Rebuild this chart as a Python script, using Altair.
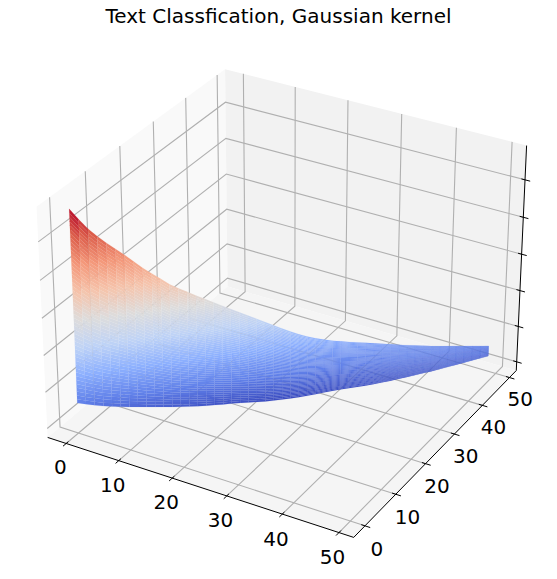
import math
import altair as alt

TITLE = "Text Classfication, Gaussian kernel"
column_t = list(range(50))
z_top = [1.149, 1.09, 1.035, .99, .95, .912, .875, .835, .795, .76,
         .725, .69, .663, .638, .612, .588, .563, .538, .514, .49,
         .466, .442, .418, .394, .37, .347, .326, .307, .291, .277,
         .265, .255, .245, .236, .227, .218, .209, .2, .191, .182,
         .174, .166, .158, .151, .145, .139, .132, .126, .119, .113]
z_bottom = [.117, .104, .091, .08, .071, .063, .055, .048, .041, .034,
            .028, .021, .015, .01, .005, .001, -.002, -.005, -.007, -.01,
            -.014, -.018, -.022, -.024, -.025, -.025, -.025, -.024, -.022, -.019,
            -.016, -.015, -.014, -.014, -.013, -.012, -.009, -.006, -.002, .002,
            .006, .011, .015, .02, .026, .032, .038, .044, .05, .056]
xy_ticks = [0, 10, 20, 30, 40, 50]
z_ticks = [0, .2, .4, .6, .8, 1.0]
xy_lim = (-2.45, 51.45)
z_lim = (-.025, 1.156)
coolwarm = ["#3b4cc0", "#6282ea", "#8db0fe", "#bfd3f6", "#dddcdc",
            "#f5c4ac", "#f4987a", "#dc5d4a", "#b40426"]
pane_colors = ["#f9f9f9", "#f2f2f2", "#f5f5f5"]
N_ROWS = 49

# matplotlib-style 3D camera: elev 30, azim -60, box aspect 4:4:3
EL, AZ, DIST = math.radians(30), math.radians(-60), 10.0
BOX = (1.1429, 1.1429, 0.8571)
n = (math.cos(EL) * math.cos(AZ), math.cos(EL) * math.sin(AZ), math.sin(EL))
un = math.hypot(n[1], n[0])
u = (-n[1] / un, n[0] / un, 0.0)
v = (n[1] * u[2] - n[2] * u[1], n[2] * u[0] - n[0] * u[2], n[0] * u[1] - n[1] * u[0])
dot = lambda a, b: sum(p * q for p, q in zip(a, b))


def cam(fx, fy, fz):
    q = ((fx - .5) * BOX[0], (fy - .5) * BOX[1], (fz - .5) * BOX[2])
    d = DIST - dot(q, n)
    return [round(dot(q, u) / d, 6), round(dot(q, v) / d, 6)]


def fxy(t):
    return (t - xy_lim[0]) / (xy_lim[1] - xy_lim[0])


def fz(z):
    return (z - z_lim[0]) / (z_lim[1] - z_lim[0])


LO, HI = -1 / 48, 49 / 48


def poly(pts, **props):
    return {"type": "Feature", "properties": props,
            "geometry": {"type": "Polygon", "coordinates": [[cam(*p) for p in pts] + [cam(*pts[0])]]}}


def line(pts, **props):
    return {"type": "Feature", "properties": props,
            "geometry": {"type": "LineString", "coordinates": [cam(*p) for p in pts]}}


panes = [
    poly([(LO, LO, LO), (LO, HI, LO), (LO, HI, HI), (LO, LO, HI)], c=pane_colors[0]),
    poly([(LO, HI, LO), (HI, HI, LO), (HI, HI, HI), (LO, HI, HI)], c=pane_colors[1]),
    poly([(LO, LO, LO), (HI, LO, LO), (HI, HI, LO), (LO, HI, LO)], c=pane_colors[2]),
]

grid = []
for t in xy_ticks:
    f = fxy(t)
    grid.append(line([(f, LO, LO), (f, HI, LO), (f, HI, HI)], k="g"))
    grid.append(line([(HI, f, LO), (LO, f, LO), (LO, f, HI)], k="g"))
for z in z_ticks:
    f = fz(z)
    grid.append(line([(LO, LO, f), (LO, HI, f), (HI, HI, f)], k="g"))

axes = [line([(LO, LO, LO), (HI, LO, LO), (HI, HI, LO), (HI, HI, HI)], k="a")]
OUT, IN = .017, .012
for t in xy_ticks:
    f = fxy(t)
    axes.append(line([(f, LO - OUT, LO), (f, LO + IN, LO)], k="a"))
    axes.append(line([(HI - IN, f, LO), (HI + OUT, f, LO)], k="a"))
for z in z_ticks:
    f = fz(z)
    axes.append(line([(HI - IN, HI, f), (HI + OUT, HI, f)], k="a"))

quads = []
for i in range(len(column_t) - 1):
    a, b = fxy(column_t[i]), fxy(column_t[i + 1])
    for j in range(N_ROWS):
        s0, s1 = j / N_ROWS, (j + 1) / N_ROWS
        za0 = z_bottom[i] + (z_top[i] - z_bottom[i]) * s0
        za1 = z_bottom[i] + (z_top[i] - z_bottom[i]) * s1
        zb0 = z_bottom[i + 1] + (z_top[i + 1] - z_bottom[i + 1]) * s0
        zb1 = z_bottom[i + 1] + (z_top[i + 1] - z_bottom[i + 1]) * s1
        quads.append(poly([(a, a, fz(za0)), (b, b, fz(zb0)), (b, b, fz(zb1)), (a, a, fz(za1))],
                          z=round((za0 + za1 + zb0 + zb1) / 4, 4)))

labels = []
for t in xy_ticks:
    f = fxy(t)
    p = cam(f, LO - .036, LO - .09)
    labels.append({"lon": p[0], "lat": p[1], "label": str(t)})
    p = cam(HI + .04, f, LO - .092)
    labels.append({"lon": p[0], "lat": p[1], "label": str(t)})

PROJ = dict(type="identity", reflectY=True, scale=2945, translate=[278.3, 254])
zs = [min(z_bottom) + (max(z_top) - min(z_bottom)) * k / 8 for k in range(9)]
z_scale = alt.Scale(domain=zs, range=coolwarm, interpolate="rgb")

pane_layer = alt.Chart(alt.Data(values=panes)).mark_geoshape(strokeWidth=0).encode(
    fill=alt.Fill("properties.c:N", legend=None,
                  scale=alt.Scale(domain=pane_colors, range=pane_colors))).project(**PROJ)
grid_layer = alt.Chart(alt.Data(values=grid)).mark_geoshape(
    filled=False, strokeWidth=1.1).encode(
    stroke=alt.Stroke("properties.k:N", legend=None,
                      scale=alt.Scale(domain=["g"], range=["#b0b0b0"]))).project(**PROJ)
axis_layer = alt.Chart(alt.Data(values=axes)).mark_geoshape(
    filled=False, strokeWidth=1.0).encode(
    stroke=alt.Stroke("properties.k:N", legend=None,
                      scale=alt.Scale(domain=["a"], range=["#000000"]))).project(**PROJ)
surface_layer = alt.Chart(alt.Data(values=quads)).mark_geoshape(strokeWidth=0.1).encode(
    fill=alt.Fill("properties.z:Q", legend=None, scale=z_scale),
    stroke=alt.Stroke("properties.z:Q", legend=None, scale=z_scale)).project(**PROJ)
text_layer = alt.Chart(alt.Data(values=labels)).mark_text(
    font="DejaVu Sans", fontSize=20, color="#000000", align="center", baseline="middle").encode(
    longitude="lon:Q", latitude="lat:Q", text="label:N").project(**PROJ)

chart = alt.layer(pane_layer, grid_layer, axis_layer, surface_layer, text_layer).resolve_scale(
    fill="independent", stroke="independent").properties(
    width=541, height=533,
    padding={"left": 0, "top": 30, "right": 0, "bottom": 0},
    autosize=alt.AutoSizeParams(type="none"),
    title=alt.TitleParams(TITLE, anchor="middle", font="DejaVu Sans", fontSize=20,
                          fontWeight="normal", color="#000000", offset=11),
).configure_view(stroke=None)

chart.save("out.html", embed_options={"renderer": "svg", "actions": False})
